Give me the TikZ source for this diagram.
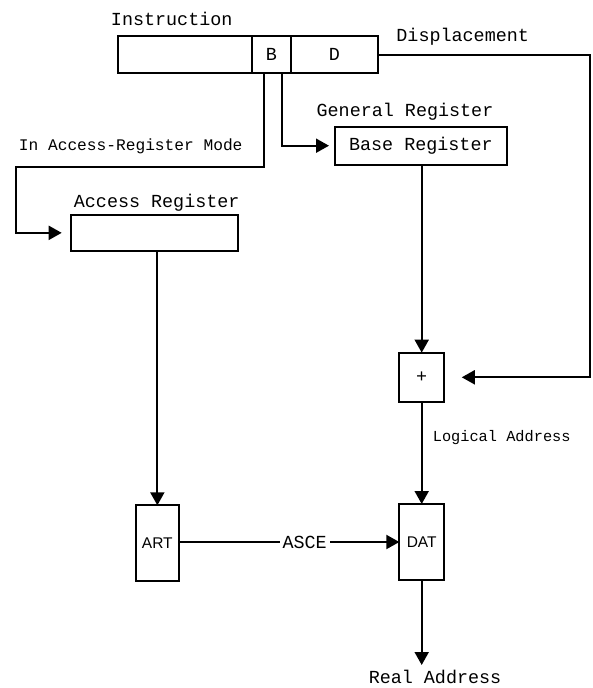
\documentclass[tikz,border=0pt]{standalone}
\usepackage{fontspec}
\setmainfont{Liberation Mono}
\newfontfamily\sansf{Liberation Sans}
\usetikzlibrary{arrows.meta}
\begin{document}
\begin{tikzpicture}[x=1pt,y=-1pt,line width=2pt,
  box/.style={draw,rectangle,inner sep=0pt,outer sep=0pt},
  lbl/.style={inner sep=0pt,font=\fontsize{18.4}{20}\selectfont},
  smalllbl/.style={inner sep=0pt,font=\fontsize{16.2}{18}\selectfont},
  tinylbl/.style={inner sep=0pt,font=\fontsize{15.3}{17}\selectfont},
  sanslbl/.style={font=\sansf\fontsize{15.5}{17}\selectfont},
  arr/.style={-{Triangle[length=13pt,width=14pt]}}]
\useasboundingbox (0,0) rectangle (592,688);

% instruction fields
\node[box,minimum width=134pt,minimum height=37pt] (iA) at (185,54.5) {};
\node[box,lbl,minimum width=38.7pt,minimum height=37pt] (iB) at (271.35,54.5) {B};
\node[box,lbl,minimum width=87.3pt,minimum height=37pt] (iD) at (334.35,54.5) {D};

% boxes
\node[box,lbl,minimum width=171.7pt,minimum height=38pt] (base) at (420.85,145.7) {Base Register};
\node[box,minimum width=167pt,minimum height=35.7pt] (acc) at (154.2,232.85) {};
\node[box,lbl,minimum width=44.7pt,minimum height=49.3pt] (plus) at (421.7,377.3) {+};
\node[box,sanslbl,minimum width=43.3pt,minimum height=76pt] (art) at (157.35,543.3) {\raisebox{-3pt}{ART}};
\node[box,sanslbl,minimum width=44.7pt,minimum height=76pt] (dat) at (421.7,542) {DAT};

% labels
\node[lbl,anchor=base] (tInstr) at (171.7,25) {Instruction};
\node[lbl,anchor=base] (tDisp) at (462.7,41.7) {Displacement};
\node[lbl,anchor=base] (tGen) at (405,116.7) {General Register};
\node[smalllbl,anchor=base] (tMode) at (130.7,150.7) {In Access-Register Mode};
\node[lbl,anchor=base] (tAcc) at (156.7,207.3) {Access Register};
\node[tinylbl,anchor=base] (tLog) at (501.7,441) {Logical Address};
\node[lbl,anchor=base] (tReal) at (435,683.3) {Real Address};

% coordinates
\coordinate (dcorner) at (590,377.3);
\coordinate (lcorner) at (15.7,166.5);
\coordinate (raTip) at (421.7,665);

% connectors
\draw[arr,shorten >=17.7pt] (iD.east) -| (dcorner) -- (plus.east);
\draw[arr,shorten >=9pt] ([xshift=-7.35pt]iB.south) |- (lcorner) |- (acc.west);
\draw[arr,shorten >=6pt] ([xshift=10.35pt]iB.south) |- (base.west);
\draw[arr] (art.north |- acc.south) -- (art.north);
\draw[arr] (plus.north |- base.south) -- (plus.north);
\draw[arr] (plus.south) -- (dat.north);
\draw[arr] (art.east |- dat.west) -- node[lbl,pos=0.57,fill=white,inner xsep=3pt,inner ysep=2pt] (tAsce) {ASCE} (dat.west);
\draw[arr] (dat.south) -- (raTip);
\end{tikzpicture}
\end{document}
